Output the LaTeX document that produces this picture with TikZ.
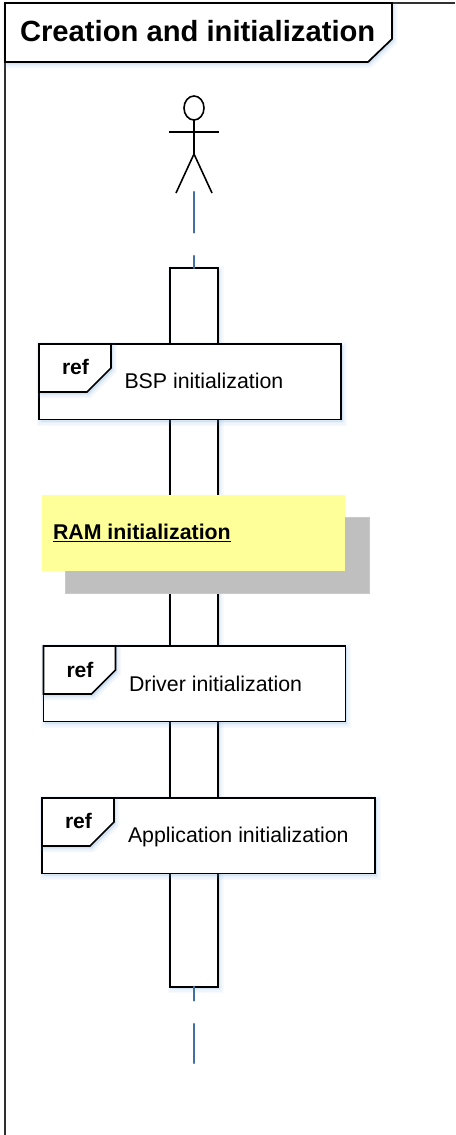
\documentclass[tikz,border=0pt]{standalone}
\usepackage{fontspec}
\setmainfont{Liberation Sans}
\usetikzlibrary{calc,shapes.geometric}
\definecolor{soft}{HTML}{5B9BD5}
\definecolor{lifeblue}{HTML}{41719C}
\definecolor{noteyellow}{HTML}{FFFF99}
\definecolor{notegrey}{HTML}{BFBFBF}
\definecolor{framegrey}{HTML}{303030}
\tikzset{
  softlayer/.style={preaction={draw=soft,fill=soft,line width=#1,opacity=.05,transform canvas={shift={(1.2pt,-1.8pt)}}}},
  softshadow/.style={softlayer=6pt,softlayer=4pt,softlayer=2pt},
  outline/.style={draw=black,line width=1.3pt,line join=miter},
  refbox/.style={outline,softshadow,fill=white,rectangle,inner sep=0,outer sep=0,minimum height=56.6pt,anchor=north west},
  activation/.style={outline,softshadow,fill=white,rectangle,inner sep=0,outer sep=0,minimum width=36pt,minimum height=539pt,anchor=north west},
  tabshape/.style={outline,softshadow,fill=white},
  lifeline/.style={draw=lifeblue,line width=1.6pt,line cap=round},
  label/.style={inner sep=0,outer sep=0,anchor=base west,text=black},
  reflabel/.style={label,font=\bfseries\fontsize{15.8pt}{18pt}\selectfont},
  bodylabel/.style={label,font=\fontsize{16pt}{19pt}\selectfont},
  stick/.style={draw=black,line width=1.2pt},
}
\begin{document}
\begin{tikzpicture}[x=.75pt,y=-.75pt]
\useasboundingbox (0,0) rectangle (455,1135);
% frame
\coordinate (frameTR) at (455,3);
\coordinate (frameTL) at (5,3);
\coordinate (frameBL) at (5,1135);
\draw[draw=framegrey,line width=1.3pt] (frameTR) -- (frameTL) -- (frameBL);
\path[tabshape] (5,3) -- (392,3) -- (392,39) -- (368,62) -- (5,62) -- cycle;
\node[label,font=\bfseries\fontsize{21.9pt}{24pt}\selectfont] (title) at (20,41) {Creation and initialization};
% actor
\node[ellipse,draw=black,line width=1.2pt,outer sep=0,minimum width=15pt,minimum height=18pt,inner sep=0] (head) at (194,108) {};
\coordinate (armL) at (169,132);
\coordinate (armR) at (219,132);
\coordinate (hip) at (194,154);
\coordinate (legL) at (176,193);
\coordinate (legR) at (212,193);
\draw[stick] (head.south) -- (hip);
\draw[stick] (armL) -- (armR);
\draw[stick] (legL) -- (hip) -- (legR);
% activation and lifeline
\coordinate (lifeTop) at (194,192);
\coordinate (lifeEnd) at (194,1063);
\node[activation] (act) at (170,268) {};
\draw[lifeline,dash pattern=on 30.5pt off 17.5pt on 10pt off 100pt] (lifeTop) -- (act.north);
\draw[lifeline,dash pattern=on 10.5pt off 17.5pt on 30pt off 100pt] (act.south) -- (lifeEnd);
% BSP
\node[refbox,minimum width=226.5pt] (bsp) at (39,344) {};
\path[tabshape] (bsp.north west) -- ++(72,0) -- ++(0,24) -- ++(-24,24) -- ++(-48,0) -- cycle;
\node[reflabel] (bspref) at (62,374) {ref};
\node[bodylabel] (bsptext) at (124.5,388) {BSP initialization};
% note
\node[fill=notegrey,draw=notegrey!85!white,line width=.5pt,outer sep=0,minimum width=228pt,minimum height=57pt,inner sep=0,anchor=north west] (noteshadow) at (65,517) {};
\node[fill=noteyellow,outer sep=0,minimum width=227.5pt,minimum height=57pt,inner sep=0,anchor=north west] (note) at (42,495) {};
\node[label,font=\bfseries\fontsize{16pt}{18pt}\selectfont] (notetext) at (53,539) {\underline{RAM initialization}};
% Driver
\node[refbox,minimum width=226.5pt] (drv) at (43.5,646) {};
\path[tabshape] (drv.north west) -- ++(72,0) -- ++(0,24) -- ++(-24,24) -- ++(-48,0) -- cycle;
\node[reflabel] (drvref) at (66.5,677) {ref};
\node[bodylabel] (drvtext) at (129,691) {Driver initialization};
% Application
\node[refbox,minimum width=250pt] (app) at (42,798) {};
\path[tabshape] (app.north west) -- ++(72,0) -- ++(0,24) -- ++(-24,24) -- ++(-48,0) -- cycle;
\node[reflabel] (appref) at (65,828) {ref};
\node[bodylabel] (apptext) at (128,842) {Application initialization};
\end{tikzpicture}
\end{document}
